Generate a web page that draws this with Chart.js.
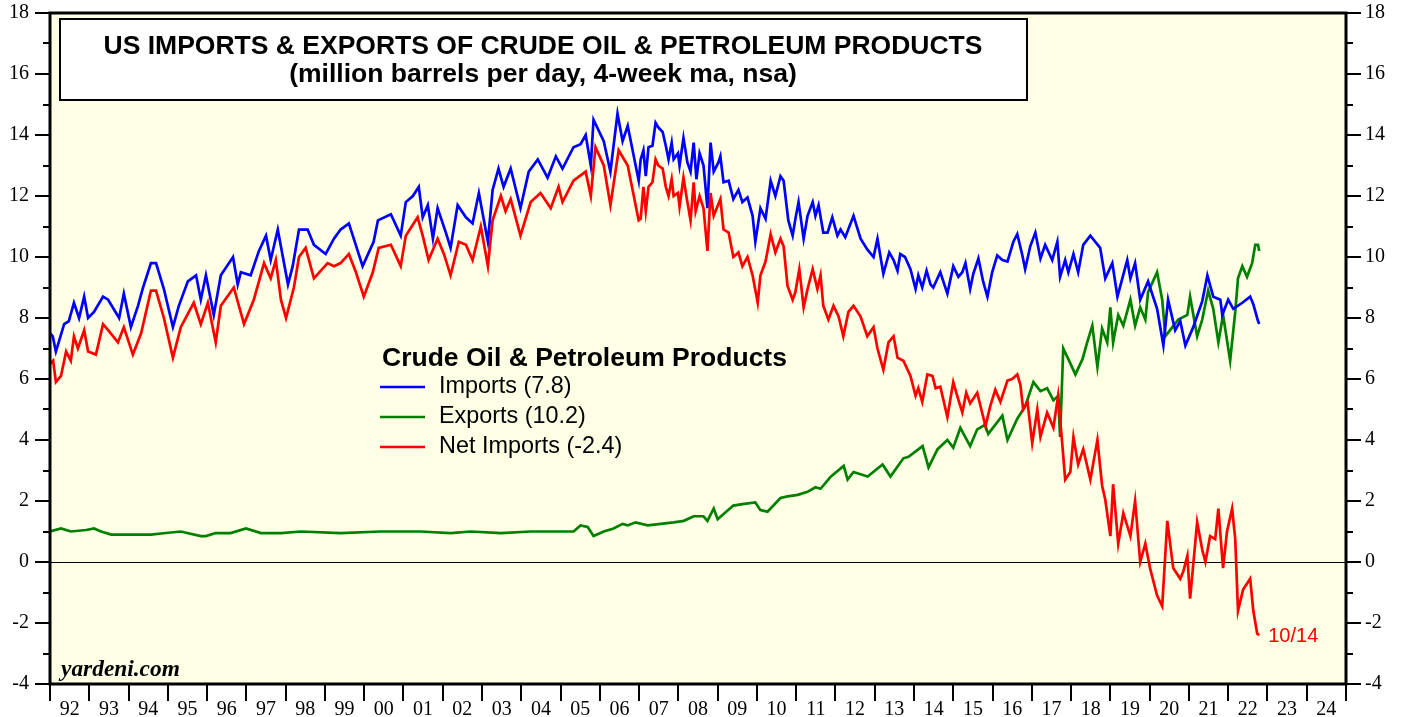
<!DOCTYPE html>
<html>
<head>
<meta charset="utf-8">
<script src="https://cdn.jsdelivr.net/npm/chart.js@4.4.0/dist/chart.umd.min.js"></script>
<style>
  html,body{margin:0;padding:0;background:#fff}
  #wrap{width:1405px;height:717px}
</style>
</head>
<body>
<div id="wrap"><canvas id="chart" width="1405" height="717"></canvas></div>
<script>
// x axis labels (one per year, 1992..2024)
const yearLabels = ['92','93','94','95','96','97','98','99','00','01','02','03','04','05','06','07','08','09','10','11','12','13','14','15','16','17','18','19','20','21','22','23','24']
const yTicks = [-4,-2,0,2,4,6,8,10,12,14,16,18]
const lastDate = '10/14'

// Imports, million b/d (4-week ma)
const importYears = [
  1992.00,1992.07,1992.15,1992.36,1992.48,1992.61,1992.74,1992.87,1992.97,
  1993.12,1993.35,1993.48,1993.76,1993.88,
  1994.06,1994.24,1994.37,1994.57,1994.70,1994.90,
  1995.13,1995.28,1995.51,1995.72,1995.84,1995.97,
  1996.17,1996.35,1996.66,1996.78,1996.86,
  1997.11,1997.32,1997.50,1997.62,1997.80,
  1998.06,1998.18,1998.34,1998.56,1998.72,
  1999.02,1999.23,1999.40,1999.61,1999.96,
  2000.24,2000.35,2000.68,2000.93,
  2001.06,2001.24,2001.39,2001.49,2001.62,2001.75,2001.87,
  2002.08,2002.20,2002.38,2002.59,2002.76,2002.92,
  2003.15,2003.27,2003.42,2003.55,2003.73,2003.98,
  2004.19,2004.42,2004.67,2004.88,
  2005.05,2005.33,2005.51,2005.64,2005.77,2005.84,
  2006.10,2006.27,2006.45,2006.58,2006.71,2006.99,
  2007.04,2007.11,2007.17,2007.24,2007.34,2007.42,2007.49,2007.60,2007.68,2007.75,2007.83,2007.88,2007.99,
  2008.03,2008.13,2008.23,2008.31,2008.39,2008.46,2008.54,2008.64,2008.74,2008.82,2008.90,
  2009.02,2009.07,2009.15,2009.28,2009.40,2009.53,2009.63,2009.76,2009.89,2009.96,
  2010.09,2010.22,2010.35,2010.47,2010.60,2010.68,2010.80,2010.91,2010.98,
  2011.06,2011.19,2011.29,2011.42,2011.49,2011.57,2011.69,2011.80,2011.92,
  2012.05,2012.13,2012.25,2012.46,2012.64,2012.81,2012.97,
  2013.07,2013.22,2013.37,2013.48,2013.58,2013.65,2013.77,2013.91,
  2014.04,2014.11,2014.21,2014.32,2014.42,2014.49,2014.67,2014.85,
  2015.00,2015.13,2015.23,2015.31,2015.43,2015.51,2015.64,2015.76,2015.87,2015.99,
  2016.12,2016.25,2016.38,2016.53,2016.63,2016.76,2016.83,2016.96,
  2017.09,2017.22,2017.34,2017.52,2017.65,2017.72,2017.85,2017.93,
  2018.06,2018.18,2018.31,2018.49,2018.74,2018.87,
  2019.05,2019.18,2019.43,2019.51,2019.63,2019.76,2019.96,
  2020.19,2020.35,2020.47,2020.65,2020.78,2020.91,
  2021.11,2021.34,2021.47,2021.62,2021.80,2021.85,
  2022.00,2022.13,2022.36,2022.56,2022.64,2022.76,2022.79
]
const importValues = [
  7.5,7.4,6.9,7.8,7.9,8.5,8.0,8.7,8.0,
  8.2,8.7,8.6,8.0,8.8,
  7.7,8.4,9.0,9.8,9.8,8.95,
  7.7,8.4,9.2,9.4,8.6,9.4,
  8.1,9.4,10.0,9.1,9.5,
  9.4,10.2,10.7,9.9,10.9,
  9.1,9.7,10.9,10.9,10.4,
  10.1,10.6,10.9,11.1,9.7,
  10.5,11.2,11.4,10.7,
  11.8,12.0,12.3,11.3,11.7,10.6,11.6,
  10.8,10.3,11.7,11.3,11.1,12.1,
  10.5,12.2,12.9,12.3,12.9,11.6,
  12.8,13.2,12.6,13.3,
  12.9,13.6,13.7,14.0,13.0,14.5,
  13.8,12.8,14.7,13.8,14.3,12.5,
  13.2,13.5,12.65,13.6,13.65,14.4,14.25,14.1,13.65,13.2,13.75,13.2,13.4,
  13.0,13.9,13.1,12.8,13.75,12.55,13.4,13.0,11.6,13.75,12.8,
  13.1,13.3,12.45,12.5,11.9,12.2,11.8,11.95,11.35,10.5,
  11.6,11.25,12.5,12.0,12.65,12.5,11.2,10.7,11.25,
  11.8,10.6,11.35,11.8,11.35,11.7,10.8,10.8,11.3,
  10.7,10.9,10.65,11.35,10.6,10.25,10.0,
  10.6,9.45,10.15,9.9,9.55,10.1,10.0,9.6,
  8.95,9.4,9.0,9.55,9.1,9.0,9.5,8.8,
  9.7,9.35,9.5,9.8,8.95,9.45,9.95,9.2,8.7,9.5,
  10.05,9.9,9.85,10.5,10.75,10.05,9.6,10.35,
  10.8,9.95,10.4,9.9,10.5,9.35,9.9,9.5,
  10.1,9.5,10.4,10.7,10.3,9.3,
  9.8,8.7,9.9,9.3,9.8,8.6,9.2,
  8.3,7.1,8.6,7.6,7.9,7.1,
  7.7,8.55,9.4,8.7,8.6,8.1,
  8.6,8.3,8.5,8.7,8.45,7.9,7.8
]

// Exports
const exportYears = [
  1992.00,1992.28,1992.53,1992.92,
  1993.12,1993.30,1993.56,
  1994.06,1994.57,1994.95,
  1995.33,1995.84,1995.97,
  1996.22,1996.60,1996.99,
  1997.37,1997.88,
  1998.39,
  1999.40,
  2000.42,
  2001.43,
  2002.20,2002.71,
  2003.48,
  2004.24,
  2005.00,2005.33,2005.51,2005.69,2005.84,
  2006.10,2006.35,2006.58,2006.71,2006.91,
  2007.22,2007.55,2007.88,
  2008.14,2008.39,2008.64,2008.74,2008.90,
  2009.00,2009.40,2009.63,2009.96,
  2010.09,2010.27,2010.60,2010.78,
  2011.04,2011.29,2011.49,2011.62,2011.88,
  2012.21,2012.31,2012.46,2012.82,
  2013.20,2013.40,2013.73,2013.86,
  2014.22,2014.37,2014.60,2014.85,
  2015.00,2015.18,2015.43,2015.61,2015.81,2015.89,
  2016.25,2016.38,2016.63,2016.83,
  2017.04,2017.22,2017.39,2017.55,2017.67,2017.72,2017.80,2017.93,
  2018.11,2018.29,2018.41,2018.54,2018.67,2018.79,2018.92,
  2019.00,2019.07,2019.20,2019.33,2019.51,2019.63,2019.76,2019.89,2019.96,
  2020.19,2020.32,2020.40,2020.58,2020.73,2020.96,
  2021.03,2021.21,2021.34,2021.49,2021.62,2021.75,2021.87,
  2022.05,2022.18,2022.25,2022.36,2022.48,2022.61,2022.69,2022.76,2022.79
]
const exportValues = [
  1.0,1.1,1.0,1.05,
  1.1,1.0,0.9,
  0.9,0.9,0.95,
  1.0,0.85,0.85,
  0.95,0.95,1.1,
  0.95,0.95,
  1.0,
  0.95,
  1.0,
  1.0,
  0.95,1.0,
  0.95,
  1.0,
  1.0,1.0,1.2,1.15,0.85,
  1.0,1.1,1.25,1.2,1.3,
  1.2,1.25,1.3,
  1.35,1.5,1.5,1.35,1.75,
  1.4,1.85,1.9,1.95,
  1.7,1.65,2.1,2.15,
  2.2,2.3,2.45,2.4,2.8,
  3.15,2.7,2.95,2.8,
  3.2,2.8,3.4,3.45,
  3.8,3.1,3.7,4.0,
  3.75,4.4,3.8,4.35,4.5,4.2,
  4.8,4.0,4.7,5.1,
  5.9,5.6,5.7,5.3,5.45,4.1,7.0,6.65,
  6.15,6.65,7.2,7.75,6.4,7.65,7.2,
  8.35,7.2,8.1,7.75,8.6,7.75,8.35,7.95,8.85,
  9.5,8.6,7.4,7.7,7.95,8.1,
  8.7,7.4,7.95,8.9,8.3,7.2,8.1,
  6.6,8.2,9.3,9.7,9.35,9.8,10.4,10.4,10.2
]

// Net imports
const netYears = [
  1992.00,1992.08,1992.15,1992.28,1992.41,1992.53,1992.61,1992.71,1992.87,1992.97,
  1993.17,1993.35,1993.48,1993.73,1993.88,
  1994.11,1994.32,1994.57,1994.70,1994.90,
  1995.13,1995.33,1995.66,1995.84,
  1996.02,1996.22,1996.35,1996.68,1996.94,
  1997.19,1997.45,1997.62,1997.75,1997.88,
  1998.01,1998.21,1998.34,1998.51,1998.72,
  1999.07,1999.23,1999.40,1999.61,1999.79,1999.99,
  2000.22,2000.37,2000.68,2000.93,
  2001.06,2001.36,2001.49,2001.64,2001.87,
  2002.03,2002.20,2002.41,2002.59,2002.76,2002.97,
  2003.15,2003.27,2003.48,2003.60,2003.73,2003.98,
  2004.24,2004.49,2004.75,2004.95,
  2005.05,2005.33,2005.64,2005.77,2005.89,
  2006.10,2006.27,2006.48,2006.71,2006.99,
  2007.04,2007.11,2007.17,2007.24,2007.34,2007.42,2007.49,2007.60,2007.68,2007.75,2007.83,2007.88,2007.99,
  2008.03,2008.13,2008.23,2008.31,2008.39,2008.44,2008.54,2008.64,2008.74,2008.82,2008.90,
  2009.07,2009.15,2009.28,2009.40,2009.53,2009.63,2009.76,2009.89,
  2010.02,2010.09,2010.22,2010.35,2010.47,2010.60,2010.68,2010.78,2010.91,2010.98,
  2011.08,2011.19,2011.29,2011.42,2011.54,2011.62,2011.69,2011.82,2011.95,
  2012.08,2012.20,2012.33,2012.46,2012.64,2012.81,2012.97,
  2013.07,2013.22,2013.35,2013.48,2013.58,2013.73,2013.91,
  2014.04,2014.11,2014.21,2014.34,2014.47,2014.55,2014.67,2014.85,
  2015.00,2015.10,2015.23,2015.33,2015.43,2015.61,2015.82,2015.94,
  2016.07,2016.20,2016.38,2016.50,2016.63,2016.71,2016.78,2016.89,
  2017.01,2017.14,2017.22,2017.39,2017.55,2017.67,2017.78,2017.85,2017.98,
  2018.06,2018.18,2018.31,2018.49,2018.67,2018.79,2018.87,
  2019.00,2019.07,2019.20,2019.33,2019.51,2019.63,2019.76,2019.89,
  2020.01,2020.19,2020.32,2020.45,2020.60,2020.78,2020.86,2020.96,
  2021.03,2021.21,2021.34,2021.42,2021.54,2021.67,2021.75,2021.87,2021.97,
  2022.10,2022.18,2022.25,2022.38,2022.56,2022.64,2022.74,2022.79
]
const netValues = [
  6.5,6.6,5.9,6.1,6.9,6.6,7.4,7.0,7.6,6.9,
  6.8,7.8,7.6,7.2,7.7,
  6.8,7.5,8.9,8.9,8.0,
  6.7,7.7,8.5,7.8,
  8.5,7.2,8.4,9.0,7.8,
  8.6,9.8,9.3,9.9,8.6,
  8.0,9.0,10.0,10.3,9.3,
  9.8,9.7,9.8,10.1,9.5,8.7,
  9.5,10.3,10.4,9.7,
  10.7,11.3,10.7,9.9,10.6,
  10.1,9.4,10.5,10.4,9.9,11.0,
  9.7,11.2,12.0,11.5,11.9,10.7,
  11.8,12.1,11.6,12.3,
  11.8,12.5,12.8,12.0,13.6,
  13.0,11.7,13.5,13.0,11.2,
  11.25,12.3,11.5,12.3,12.45,13.2,13.0,12.9,12.3,12.0,12.55,12.0,12.1,
  11.65,12.6,11.8,11.2,12.45,11.5,12.0,11.6,10.2,12.1,11.35,
  11.9,10.9,10.8,10.0,10.15,9.7,10.0,9.4,
  8.5,9.4,9.85,10.75,10.15,10.6,10.35,9.05,8.6,8.85,
  9.6,8.35,8.95,9.6,8.95,9.4,8.4,7.95,8.4,
  8.05,7.4,8.2,8.4,8.05,7.4,7.7,
  7.0,6.3,7.2,7.4,6.7,6.6,6.1,
  5.45,5.7,5.25,6.15,6.1,5.7,5.75,4.75,
  5.9,5.45,4.9,5.55,5.2,5.55,4.45,5.1,
  5.65,5.25,5.95,6.0,6.15,5.8,5.0,5.25,
  3.9,5.0,4.1,4.9,4.4,5.45,3.8,2.7,2.95,
  4.1,3.2,3.7,2.7,4.0,2.5,2.05,
  0.85,2.55,0.6,1.6,0.85,2.0,0.0,0.6,
  -0.2,-1.1,-1.45,1.35,-0.2,-0.55,-0.3,0.2,
  -1.2,1.3,0.4,0.0,0.85,0.75,1.75,-0.2,1.0,
  1.75,0.75,-1.6,-0.9,-0.55,-1.6,-2.35,-2.4
]

const legendItems = [
  {label:'Imports (7.8)', color:'#0000FF'},
  {label:'Exports (10.2)', color:'#008000'},
  {label:'Net Imports (-2.4)', color:'#FF0000'}
]

const SANS = '"Liberation Sans", Arial, sans-serif'
const SERIF = '"Liberation Serif", "Times New Roman", serif'

function pts(xs, ys){ return xs.map((x,i)=>({x, y:ys[i]})) }

function noPad(s){ s.paddingTop = 0; s.paddingBottom = 0; s.paddingLeft = 0; s.paddingRight = 0 }

const decor = {
  id:'decor',
  beforeDraw(chart){
    const {ctx, chartArea:a} = chart
    ctx.save()
    ctx.fillStyle = '#FFFFE5'
    ctx.fillRect(a.left, a.top, a.right-a.left, a.bottom-a.top)
    ctx.restore()
  },
  beforeDatasetsDraw(chart){
    const {ctx, chartArea:a} = chart
    const y0 = Math.round(chart.scales.y.getPixelForValue(0)) + 0.5
    ctx.save()
    ctx.strokeStyle = '#000'; ctx.lineWidth = 1
    ctx.beginPath(); ctx.moveTo(a.left, y0); ctx.lineTo(a.right, y0); ctx.stroke()
    ctx.restore()
  },
  afterDraw(chart){
    const {ctx, chartArea:a} = chart
    const {x, y} = chart.scales
    ctx.save()
    ctx.strokeStyle = '#000'
    ctx.lineWidth = 3
    ctx.strokeRect(a.left, a.top, a.right-a.left, a.bottom-a.top)

    // y tick marks, major on labelled values, minor in between
    ctx.lineWidth = 2
    for(let v = yTicks[0]; v <= yTicks[yTicks.length-1]; v++){
      const py = Math.round(y.getPixelForValue(v))
      const len = yTicks.includes(v) ? 15 : 7
      ctx.beginPath()
      ctx.moveTo(a.left-len, py); ctx.lineTo(a.left, py)
      ctx.moveTo(a.right, py); ctx.lineTo(a.right+len, py)
      ctx.stroke()
    }
    // x tick marks at year boundaries
    for(let i = 0; i <= yearLabels.length; i++){
      const px = Math.round(x.getPixelForValue(1992+i))
      ctx.beginPath(); ctx.moveTo(px, a.bottom); ctx.lineTo(px, a.bottom+17); ctx.stroke()
    }

    // title box
    ctx.fillStyle = '#fff'
    ctx.fillRect(60, 19, 967, 81)
    ctx.lineWidth = 2
    ctx.strokeRect(60, 19, 967, 81)
    ctx.fillStyle = '#000'
    ctx.textAlign = 'center'; ctx.textBaseline = 'middle'
    ctx.font = 'bold 26.5px ' + SANS
    ctx.fillText('US IMPORTS & EXPORTS OF CRUDE OIL & PETROLEUM PRODUCTS', 543, 47)
    ctx.fillText('(million barrels per day, 4-week ma, nsa)', 543, 75)

    // legend
    ctx.textAlign = 'left'
    ctx.font = 'bold 26.5px ' + SANS
    ctx.fillText('Crude Oil & Petroleum Products', 382, 359)
    ctx.font = '23.4px ' + SANS
    legendItems.forEach((it, i) => {
      const ly = 387 + i*30
      ctx.strokeStyle = it.color; ctx.lineWidth = 2.5
      ctx.beginPath(); ctx.moveTo(380, ly); ctx.lineTo(425, ly); ctx.stroke()
      ctx.fillStyle = '#000'
      ctx.fillText(it.label, 439, ly)
    })

    // source
    ctx.font = 'italic bold 23.4px ' + SERIF
    ctx.fillText('yardeni.com', 61, 670)

    // last date next to the end of net imports
    const lx = x.getPixelForValue(netYears[netYears.length-1])
    const ly = y.getPixelForValue(netValues[netValues.length-1])
    ctx.fillStyle = '#FF0000'
    ctx.font = '20px ' + SANS
    ctx.fillText(lastDate, lx+9, ly+1)
    ctx.restore()
  }
}

const tickFont = {family: SERIF, size: 20}

new Chart(document.getElementById('chart'), {
  type: 'line',
  data: {
    datasets: [
      {label:'Net Imports', data: pts(netYears, netValues), borderColor:'#FF0000', borderWidth:2.7, pointRadius:0, tension:0, order:0},
      {label:'Imports', data: pts(importYears, importValues), borderColor:'#0000FF', borderWidth:2.7, pointRadius:0, tension:0, order:1},
      {label:'Exports', data: pts(exportYears, exportValues), borderColor:'#008000', borderWidth:2.7, pointRadius:0, tension:0, order:2}
    ]
  },
  options: {
    responsive: false,
    animation: false,
    events: [],
    layout: {padding: {top: 13, left: 0, right: 0, bottom: 0}},
    plugins: {legend: {display: false}, tooltip: {enabled: false}},
    scales: {
      x: {
        type: 'linear', min: 1992, max: 2025,
        grid: {display: false, drawTicks: false}, border: {display: false},
        afterBuildTicks: s => { s.ticks = yearLabels.map((l, i) => ({value: 1992.5 + i})) },
        ticks: {autoSkip: false, maxRotation: 0, padding: 14, color: '#000', font: tickFont,
                callback: (v, i) => yearLabels[i]},
        afterFit: s => { s.height = 33; noPad(s) }
      },
      y: {
        position: 'left', min: -4, max: 18,
        grid: {display: false, drawTicks: false}, border: {display: false},
        afterBuildTicks: s => { s.ticks = yTicks.map(v => ({value: v})) },
        ticks: {padding: 21, color: '#000', font: tickFont},
        afterFit: s => { s.width = 50; noPad(s) }
      },
      y2: {
        position: 'right', min: -4, max: 18,
        grid: {display: false, drawTicks: false}, border: {display: false},
        afterBuildTicks: s => { s.ticks = yTicks.map(v => ({value: v})) },
        ticks: {padding: 19, color: '#000', font: tickFont},
        afterFit: s => { s.width = 59; noPad(s) }
      }
    }
  },
  plugins: [decor]
})
</script>
</body>
</html>
